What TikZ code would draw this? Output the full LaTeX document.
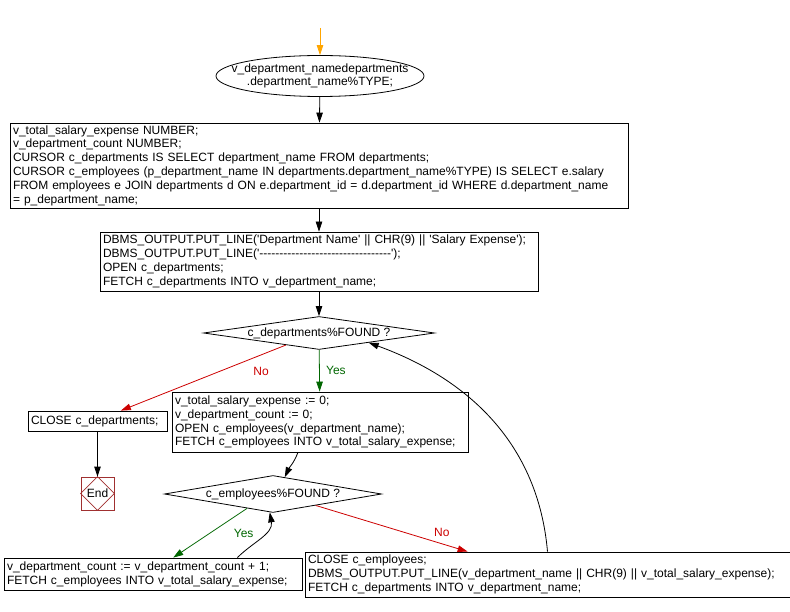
\documentclass[tikz,border=0pt]{standalone}
\usepackage{fontspec}
\setmainfont{Liberation Sans}[Ligatures=TeXOff]
\usetikzlibrary{arrows.meta,positioning,calc,shapes.geometric}
\definecolor{fred}{HTML}{CC0000}
\definecolor{fgreen}{HTML}{006600}
\definecolor{forange}{HTML}{FFA500}
\definecolor{fend}{HTML}{A03030}

\begin{document}
\begin{tikzpicture}[x=1pt,y=-1pt,font=\fontsize{12}{13.8}\selectfont,
  box/.style={draw,line width=0.8pt,align=left,inner xsep=3pt,inner ysep=1pt},
  cond/.style={draw,diamond,line width=0.8pt,aspect=7,inner sep=0pt,text height=8pt,text depth=1pt},
  flow/.style={line width=0.8pt,-{Triangle[length=10pt,width=6.5pt]}}]
\useasboundingbox (0,0) rectangle (790,612);
\coordinate (start) at (320,28);
\node[draw,ellipse,line width=0.8pt,minimum width=208pt,minimum height=41pt,inner xsep=-17pt,inner ysep=0pt,align=center] (decl) at (320,76) {v\_department\_namedepartments\\.department\_name\%TYPE;};
\node[box,text width=612pt,minimum height=85pt] (vars) at (319,165.5) {v\_total\_salary\_expense NUMBER;\\v\_department\_count NUMBER;\\CURSOR c\_departments IS SELECT department\_name FROM departments;\\CURSOR c\_employees (p\_department\_name IN departments.department\_name\%TYPE) IS SELECT e.salary\\FROM employees e JOIN departments d ON e.department\_id = d.department\_id WHERE d.department\_name\\= p\_department\_name;};
\node[box,text width=432pt,minimum height=59pt] (init) at (319,261.5) {DBMS\_OUTPUT.PUT\_LINE('Department Name' || CHR(9) || 'Salary Expense');\\DBMS\_OUTPUT.PUT\_LINE('---------------------------------');\\OPEN c\_departments;\\FETCH c\_departments INTO v\_department\_name;};
\node[cond,minimum width=231pt,minimum height=33pt] (d1) at (319,333) {c\_departments\%FOUND ?};
\node[box,text width=290pt,minimum height=60pt] (body) at (320,422) {v\_total\_salary\_expense := 0;\\v\_department\_count := 0;\\OPEN c\_employees(v\_department\_name);\\FETCH c\_employees INTO v\_total\_salary\_expense;};
\node[box,text width=133pt,minimum height=20pt] (close) at (97.5,421) {CLOSE c\_departments;};
\node[draw=fend,line width=0.8pt,minimum size=33pt,inner sep=0pt] (end) at (97.5,493.5) {End};
\node[cond,aspect=6,minimum width=217pt,minimum height=37pt] (d2) at (273,494) {c\_employees\%FOUND ?};
\node[box,text width=292pt,minimum height=32pt] (count) at (153,574) {v\_department\_count := v\_department\_count + 1;\\FETCH c\_employees INTO v\_total\_salary\_expense;};
\node[box,text width=479pt,minimum height=45pt] (next) at (547.5,574.5) {CLOSE c\_employees;\\DBMS\_OUTPUT.PUT\_LINE(v\_department\_name || CHR(9) || v\_total\_salary\_expense);\\FETCH c\_departments INTO v\_department\_name;};
\draw[fend,line width=0.6pt] (end.north) -- (end.east) -- (end.south) -- (end.west) -- cycle;
\draw[flow,forange] (start) -- (decl);
\draw[flow] (decl) -- (vars);
\draw[flow] (vars) -- (init);
\draw[flow] (init) -- (d1);
\draw[flow,fgreen] (d1) -- node[right=3pt]{Yes} (body);
\draw[flow,fred] (d1.-160) -- node[pos=0.15,below=9pt]{No} (close.24);
\draw[flow] (close) -- (end);
\draw[flow] (body.-126) to[out=-110,in=65] (d2.55);
\draw[flow,fgreen] (d2.-151) -- node[pos=0.5,right=20pt]{Yes} (count.39);
\draw[flow] (count.11) to[out=45,in=-80] (d2.-100);
\draw[flow,fred] (d2.-15) -- node[pos=0.83,above=3pt]{No} (next.164);
\draw[flow] (next.north) to[out=95,in=-20] (d1.-11);
\end{tikzpicture}
\end{document}
